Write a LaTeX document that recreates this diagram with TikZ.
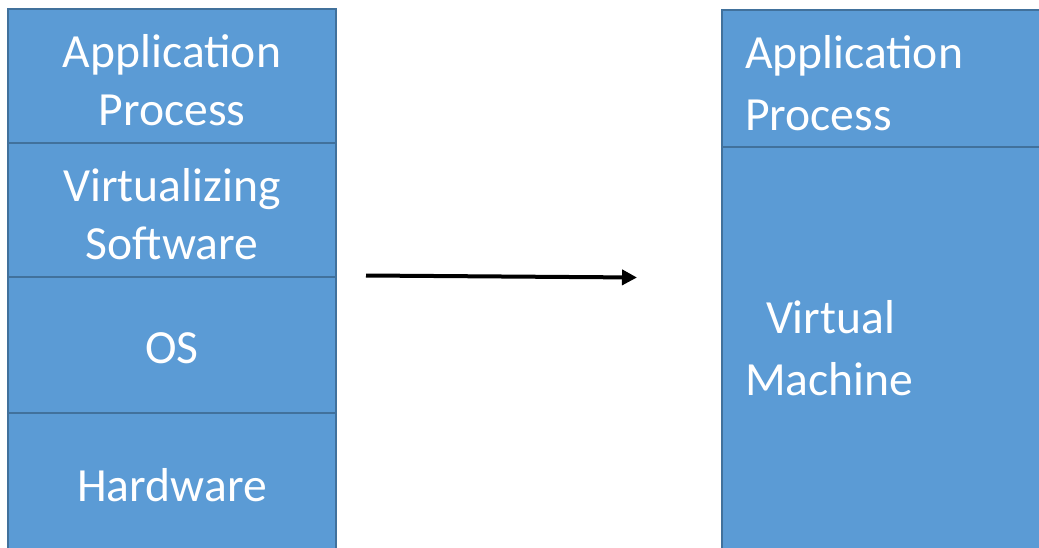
\documentclass[tikz,border=0pt]{standalone}
\usepackage{fontspec}
\setmainfont{Carlito}
\usetikzlibrary{arrows.meta}
\definecolor{layerfill}{HTML}{5B9BD5}
\definecolor{layerline}{HTML}{41719C}
\begin{document}
\begin{tikzpicture}[x=1pt,y=-1pt,
  layer/.style={draw=layerline, line width=2pt, fill=layerfill,
    inner sep=0pt, outer sep=0pt, minimum width=328},
  caption/.style={text=white, inner sep=0pt,
    font=\fontsize{47.6}{58}\selectfont, align=center},
  widecaption/.style={text=white, inner sep=0pt,
    font=\fontsize{47.6}{62}\selectfont, text width=282pt, align=left},
  flow/.style={-{Triangle[length=15pt,width=15pt]}, line width=4pt, black}
]
\useasboundingbox (0,0) rectangle (1039,548);
\begin{scope}
  \clip (0,0) rectangle (1039,548);
  % stack on the host machine
  \node[layer, minimum height=134] (app)  at (172,76)  {};
  \node[layer, minimum height=134] (virt) at (172,210) {};
  \node[layer, minimum height=136] (os)   at (172,345) {};
  \node[layer, minimum height=144] (hw)   at (172,485) {};
  % stack seen by the guest process
  \node[layer, minimum height=137] (gapp) at (886,78.5) {};
  \node[layer, minimum height=408] (vm)   at (886,351)  {};
\end{scope}
% layer names
\node[caption] (apptext)  at ([yshift=-4pt]app.center)  {Application\\Process};
\node[caption] (virttext) at ([yshift=-4pt]virt.center) {Virtualizing\\Software};
\node[caption] (ostext)   at ([yshift=-3pt]os.center)   {OS};
\node[caption] (hwtext)   at (hw.center)                {Hardware};
\node[widecaption] (gapptext) at ([yshift=-5pt]gapp.center) {Application\\Process};
\node[widecaption] (vmtext)   at ([yshift=2.5pt]vm.center)  {\hspace{21pt}Virtual\\Machine};
% transition arrow
\coordinate (from) at (366,275.5);
\coordinate (to)   at (637,277.5);
\draw[flow] (from) -- (to);
\end{tikzpicture}
\end{document}
